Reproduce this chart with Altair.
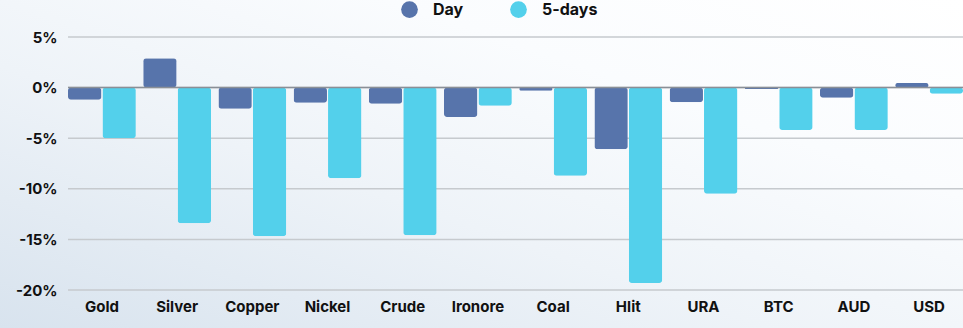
import altair as alt
import pandas as pd

categories = ["Gold", "Silver", "Copper", "Nickel", "Crude", "Ironore", "Coal", "Hlit", "URA", "BTC", "AUD", "USD"]
day = [-1.2, 2.9, -2.1, -1.5, -1.6, -2.9, -0.3, -6.1, -1.45, -0.15, -1.0, 0.45]
five_days = [-5.0, -13.4, -14.7, -8.95, -14.6, -1.8, -8.7, -19.3, -10.5, -4.2, -4.2, -0.6]
series = ["Day", "5-days"]
colors = ["#5774AB", "#53D0EB"]
y_ticks = [5, 0, -5, -10, -15, -20]

rows = []
for c, d, f in zip(categories, day, five_days):
    rows.append({"cat": c, "series": "Day", "value": d})
    rows.append({"cat": c, "series": "5-days", "value": f})
df = pd.DataFrame(rows)

FONT = "Inter"
yscale = alt.Scale(domain=[-20, 5], nice=False)

bg = alt.Chart(pd.DataFrame({"a": [0]})).mark_rect(
    clip=False,
    color=alt.Gradient(
        gradient="linear", x1=0, y1=1, x2=1, y2=0,
        stops=[alt.GradientStop(color="#D8E3EE", offset=0),
               alt.GradientStop(color="#EEF3F8", offset=0.4),
               alt.GradientStop(color="#FAFCFE", offset=0.7),
               alt.GradientStop(color="#FFFFFF", offset=1)],
    ),
).encode(x=alt.value(-68), x2=alt.value(895), y=alt.value(-37), y2=alt.value(291))

grid = alt.Chart(pd.DataFrame({"t": y_ticks})).mark_rule(
    color="#C6CACE", strokeWidth=1.5
).encode(y=alt.Y("t:Q", scale=yscale))

bars = alt.Chart(df).mark_bar(cornerRadius=3).encode(
    x=alt.X("cat:N", sort=categories,
            scale=alt.Scale(paddingInner=0.098, paddingOuter=0),
            axis=alt.Axis(title=None, labelAngle=0, domain=False, ticks=False, zindex=1,
                          labelFont=FONT, labelFontWeight="bold", labelFontSize=15,
                          labelColor="#111111", labelPadding=9)),
    xOffset=alt.XOffset("series:N", sort=series, scale=alt.Scale(paddingInner=0.03)),
    y=alt.Y("value:Q", scale=yscale,
            axis=alt.Axis(title=None, values=y_ticks, domain=False, ticks=False, grid=False,
                          zindex=1, labelExpr="datum.value + '%'",
                          labelFont=FONT, labelFontWeight="bold", labelFontSize=15,
                          labelColor="#111111", labelPadding=11)),
    color=alt.Color("series:N", sort=series,
                    scale=alt.Scale(domain=series, range=colors),
                    legend=alt.Legend(title=None, orient="none", direction="horizontal",
                                      legendX=332, legendY=-37, symbolType="circle",
                                      symbolSize=280, labelFont=FONT, labelFontWeight="bold",
                                      labelFontSize=16, labelColor="#111111",
                                      columnPadding=45, labelOffset=14)),
)

zero = alt.Chart(pd.DataFrame({"y": [0]})).mark_rule(color="#8A8F96", strokeWidth=1.5).encode(
    y=alt.Y("y:Q", scale=yscale)
)

chart = alt.layer(bg, grid, bars, zero).properties(
    width=895, height=253,
    autosize=alt.AutoSizeParams(type="none"),
    padding={"left": 68, "top": 37, "right": 0, "bottom": 38},
    background="#F4F7FA",
).configure_view(stroke=None)

chart.save("out.html", embed_options={"renderer": "svg", "actions": False})
